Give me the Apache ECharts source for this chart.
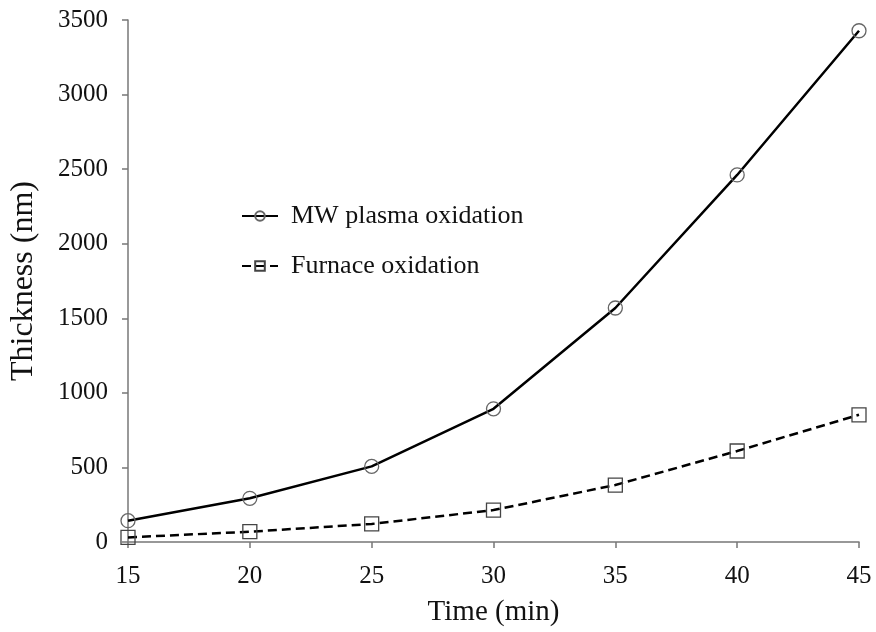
<!DOCTYPE html>
<html><head><meta charset="utf-8">
<script src="https://cdn.jsdelivr.net/npm/echarts@6/dist/echarts.min.js"></script>
<style>html,body{margin:0;padding:0;background:#fff}#c{width:876px;height:632px}</style>
</head><body><div id="c"></div>
<script>
const times = [15, 20, 25, 30, 35, 40, 45];
const mwPlasma = [143, 293, 507, 893, 1569, 2461, 3428];
const furnace = [31, 69, 121, 214, 382, 610, 853];
const seriesNames = ['MW plasma oxidation', 'Furnace oxidation'];
const xTicks = [15, 20, 25, 30, 35, 40, 45];
const yTicks = [0, 500, 1000, 1500, 2000, 2500, 3000, 3500];

const font = 'Liberation Serif, Times New Roman, serif';
const chart = echarts.init(document.getElementById('c'), null, {renderer: 'canvas'});
const pairs = arr => times.map((t, i) => [t, arr[i]]);
chart.setOption({
  backgroundColor: '#fff',
  animation: false,
  grid: {left: 128, right: 17, top: 20, bottom: 90, containLabel: false, outerBoundsMode: 'none'},
  legend: {
    orient: 'vertical', left: 236, top: 198, itemGap: 24,
    itemWidth: 36, itemHeight: 12,
    textStyle: {fontFamily: font, fontSize: 26, color: '#111', padding: [0, 0, 0, 8]},
    data: seriesNames
  },
  xAxis: {
    type: 'value', min: 15, max: 45, interval: 5,
    name: 'Time (min)', nameLocation: 'middle', nameGap: 56,
    nameTextStyle: {fontFamily: font, fontSize: 29, color: '#111'},
    axisLine: {show: true, lineStyle: {color: '#777', width: 1.5}},
    axisTick: {show: true, inside: false, length: 6, lineStyle: {color: '#777', width: 1.5}},
    axisLabel: {fontFamily: font, fontSize: 25, color: '#111', margin: 22,
      formatter: v => xTicks.includes(v) ? String(v) : ''},
    splitLine: {show: false}
  },
  yAxis: {
    type: 'value', min: 0, max: 3500, interval: 500,
    name: 'Thickness (nm)', nameLocation: 'middle', nameGap: 88, nameRotate: 90,
    nameTextStyle: {fontFamily: font, fontSize: 32, color: '#111'},
    axisLine: {show: true, lineStyle: {color: '#777', width: 1.5}},
    axisTick: {show: true, inside: false, length: 6, lineStyle: {color: '#777', width: 1.5}},
    axisLabel: {fontFamily: font, fontSize: 25, color: '#111', margin: 20,
      formatter: v => yTicks.includes(v) ? String(v) : ''},
    splitLine: {show: false}
  },
  series: [
    {
      name: seriesNames[0], type: 'line', data: pairs(mwPlasma),
      symbol: 'circle', symbolSize: 14, showAllSymbol: true,
      lineStyle: {color: '#000', width: 2.5, type: 'solid'},
      itemStyle: {color: 'rgba(255,255,255,0)', borderColor: '#666', borderWidth: 1.3},
      z: 3
    },
    {
      name: seriesNames[1], type: 'line', data: pairs(furnace),
      symbol: 'rect', symbolSize: 14, showAllSymbol: true,
      lineStyle: {color: '#000', width: 2.5, type: [9, 5]},
      itemStyle: {color: 'rgba(255,255,255,0)', borderColor: '#444', borderWidth: 1.3},
      z: 3
    }
  ]
});
</script></body></html>
